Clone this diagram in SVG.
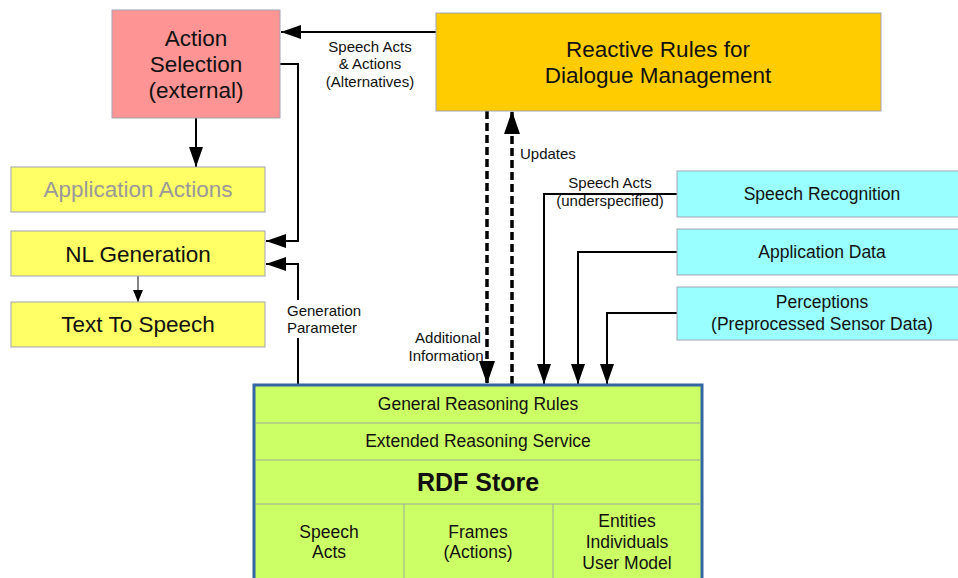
<svg xmlns="http://www.w3.org/2000/svg" width="958" height="578" viewBox="0 0 958 578">
  <style>
    text { font-family: "Liberation Sans", Arial, sans-serif; fill: #111; }
    .big { font-size: 22.5px; text-anchor: middle; }
    .mid { font-size: 17.5px; text-anchor: middle; }
    .lbl { font-size: 15px; }
    .box { stroke: #a3a3b5; stroke-width: 1; }
    .wire { fill: none; stroke: #000; stroke-width: 2; }
    .dash { fill: none; stroke: #000; stroke-width: 3.5; stroke-dasharray: 8 4; }
    .cell { stroke: #9aa89a; stroke-width: 1; fill: none; }
  </style>
  <defs>
    <marker id="head" markerUnits="userSpaceOnUse" markerWidth="22" markerHeight="16" refX="20" refY="7" orient="auto">
      <path d="M0,0 L20,7 L0,14 Z" fill="#000"/>
    </marker>
    <marker id="headBig" markerUnits="userSpaceOnUse" markerWidth="26" markerHeight="20" refX="23" refY="8" orient="auto">
      <path d="M0,0 L23,8 L0,16 Z" fill="#000"/>
    </marker>
    <marker id="headSmall" markerUnits="userSpaceOnUse" markerWidth="14" markerHeight="12" refX="12" refY="5" orient="auto">
      <path d="M0,0 L12,5 L0,10 Z" fill="#000"/>
    </marker>
  </defs>

  <rect width="958" height="578" fill="#fff"/>

  <!-- connectors -->
  <g id="connectors">
    <line class="wire" x1="436" y1="32" x2="281" y2="32" marker-end="url(#head)"/>
    <polyline class="wire" points="280,64 298,64 298,241 266,241" marker-end="url(#head)"/>
    <line class="wire" x1="196" y1="118" x2="196" y2="167" marker-end="url(#head)"/>
    <line x1="138" y1="276" x2="138" y2="302" stroke="#333" stroke-width="1.2" marker-end="url(#headSmall)"/>
    <line class="wire" x1="298" y1="384" x2="298" y2="338"/>
    <polyline class="wire" points="298,300 298,264 266,264" marker-end="url(#head)"/>
    <line class="dash" x1="487" y1="111" x2="487" y2="384" marker-end="url(#headBig)"/>
    <line class="dash" x1="512" y1="384" x2="512" y2="111" marker-end="url(#headBig)"/>
    <polyline class="wire" points="677,194 544,194 544,384" marker-end="url(#head)"/>
    <polyline class="wire" points="677,252 578,252 578,384" marker-end="url(#head)"/>
    <polyline class="wire" points="677,313 607,313 607,384" marker-end="url(#head)"/>

    <text class="lbl" text-anchor="middle" x="370" y="52">Speech Acts</text>
    <text class="lbl" text-anchor="middle" x="370" y="69">&amp; Actions</text>
    <text class="lbl" text-anchor="middle" x="370" y="87">(Alternatives)</text>
    <text class="lbl" x="520" y="159">Updates</text>
    <text class="lbl" text-anchor="middle" x="610" y="188">Speech Acts</text>
    <text class="lbl" text-anchor="middle" x="610" y="206">(underspecified)</text>
    <text class="lbl" text-anchor="middle" x="448" y="343">Additional</text>
    <text class="lbl" text-anchor="middle" x="446" y="361">Information</text>
    <text class="lbl" x="287" y="316">Generation</text>
    <text class="lbl" x="287" y="333">Parameter</text>
  </g>

  <!-- nodes -->
  <g id="action-selection">
    <rect class="box" x="112" y="10" width="168" height="108" fill="#ff9494"/>
    <text class="big" x="196" y="46">Action</text>
    <text class="big" x="196" y="72">Selection</text>
    <text class="big" x="196" y="98">(external)</text>
  </g>

  <g id="reactive-rules">
    <rect class="box" x="436" y="13" width="445" height="98" fill="#ffcc00"/>
    <text class="big" x="658" y="57">Reactive Rules for</text>
    <text class="big" x="658" y="83">Dialogue Management</text>
  </g>

  <g id="application-actions">
    <rect class="box" x="11" y="167" width="254" height="45" fill="#ffff66"/>
    <text class="big" x="138" y="197" style="fill:#999">Application Actions</text>
  </g>

  <g id="nl-generation">
    <rect class="box" x="11" y="231" width="254" height="45" fill="#ffff66"/>
    <text class="big" x="138" y="262">NL Generation</text>
  </g>

  <g id="text-to-speech">
    <rect class="box" x="11" y="302" width="254" height="45" fill="#ffff66"/>
    <text class="big" x="138" y="332">Text To Speech</text>
  </g>

  <g id="speech-recognition">
    <rect class="box" x="677" y="171" width="290" height="46" fill="#99ffff"/>
    <text class="mid" x="822" y="200">Speech Recognition</text>
  </g>

  <g id="application-data">
    <rect class="box" x="677" y="229" width="290" height="46" fill="#99ffff"/>
    <text class="mid" x="822" y="258">Application Data</text>
  </g>

  <g id="perceptions">
    <rect class="box" x="677" y="287" width="290" height="53" fill="#99ffff"/>
    <text class="mid" x="822" y="308">Perceptions</text>
    <text class="mid" x="822" y="330">(Preprocessed Sensor Data)</text>
  </g>

  <g id="rdf-store">
    <rect x="254" y="385" width="448" height="200" fill="#ccff66" stroke="#3465a4" stroke-width="3"/>
    <line class="cell" x1="255.5" y1="423" x2="700.5" y2="423"/>
    <line class="cell" x1="255.5" y1="460" x2="700.5" y2="460"/>
    <line class="cell" x1="255.5" y1="504" x2="700.5" y2="504"/>
    <line class="cell" x1="404" y1="504" x2="404" y2="578"/>
    <line class="cell" x1="553" y1="504" x2="553" y2="578"/>
    <text class="mid" x="478" y="410">General Reasoning Rules</text>
    <text class="mid" x="478" y="447">Extended Reasoning Service</text>
    <text x="478" y="491" text-anchor="middle" font-size="25" font-weight="bold">RDF Store</text>
    <text class="mid" x="329" y="538">Speech</text>
    <text class="mid" x="329" y="558">Acts</text>
    <text class="mid" x="478" y="538">Frames</text>
    <text class="mid" x="478" y="558">(Actions)</text>
    <text class="mid" x="627" y="527">Entities</text>
    <text class="mid" x="627" y="548">Individuals</text>
    <text class="mid" x="627" y="569">User Model</text>
  </g>
</svg>
